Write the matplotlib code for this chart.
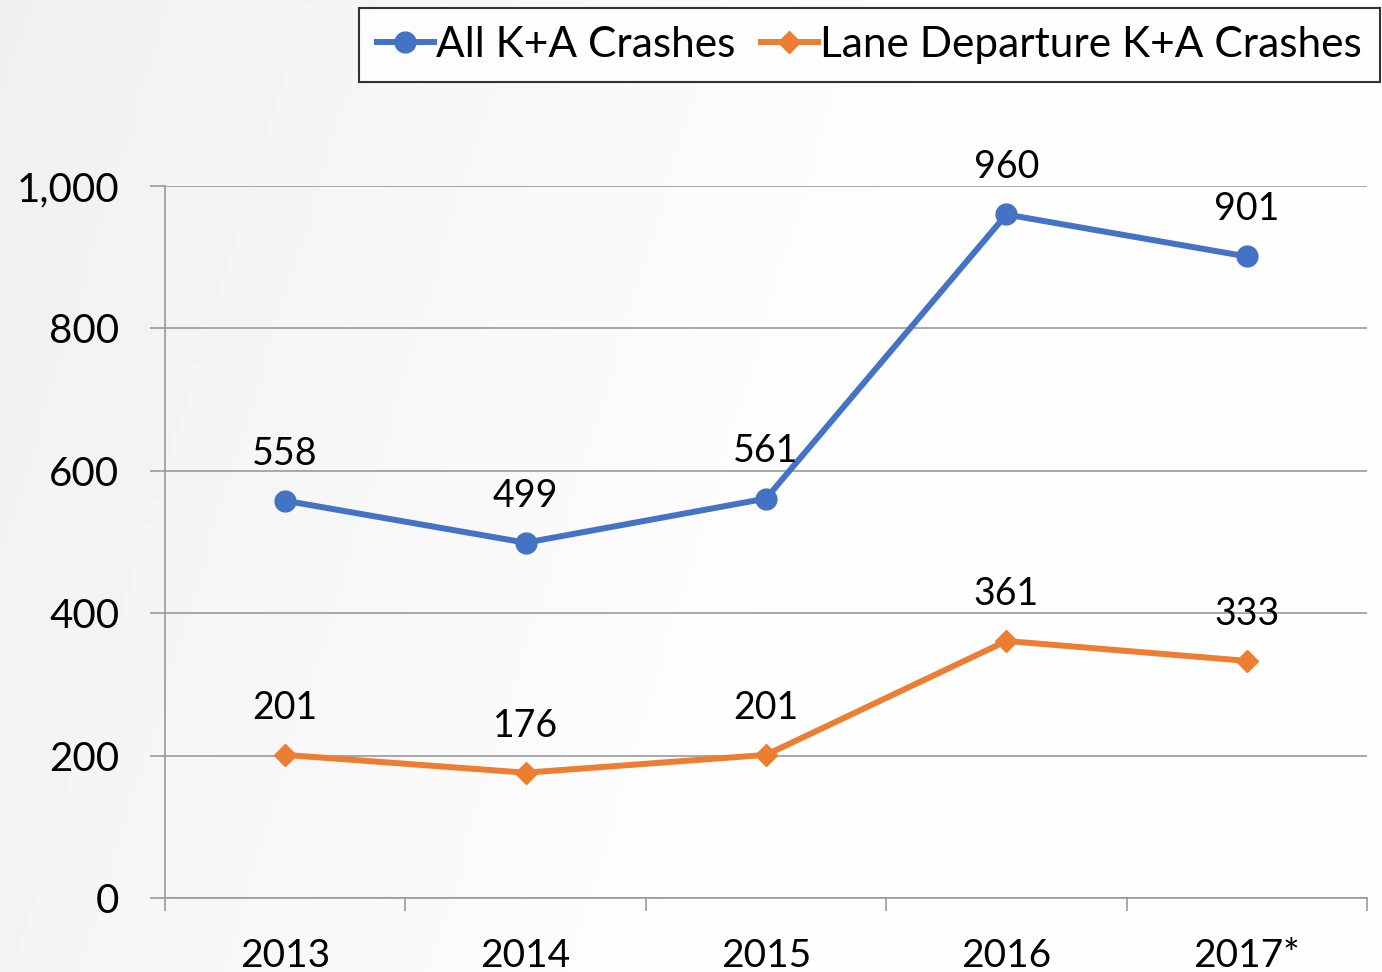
import matplotlib
matplotlib.use('Agg')
import matplotlib.pyplot as plt
import numpy as np

years = ['2013', '2014', '2015', '2016', '2017*']
all_ka = [558, 499, 561, 960, 901]
lane_ka = [201, 176, 201, 361, 333]

plt.rcParams['font.family'] = ['Lato', 'DejaVu Sans']

fig = plt.figure(figsize=(13.82, 9.72), dpi=100)
fig.patch.set_facecolor('white')

# faint grey backdrop like the slide
bg = fig.add_axes([0, 0, 1, 1], zorder=-10)
gx, gy = np.meshgrid(np.linspace(0, 1, 200), np.linspace(0, 1, 200))
shade = 0.94 + 0.055 * np.clip(gx * 1.4 + gy * 0.3, 0, 1)
bg.imshow(shade, cmap='gray', vmin=0, vmax=1, aspect='auto', extent=[0, 1, 0, 1])
bg.axis('off')

ax = fig.add_axes([165 / 1382, 1 - 898 / 972, (1367 - 165) / 1382, (898 - 186) / 972])
ax.set_facecolor('none')

x = np.arange(len(years))
blue = '#4472C4'
orange = '#ED7D31'
ax.plot(x, all_ka, color=blue, lw=4.3, marker='o', ms=15, label='All K+A Crashes', zorder=3)
ax.plot(x, lane_ka, color=orange, lw=4.3, marker='D', ms=11, label='Lane Departure K+A Crashes', zorder=3)

for xi, v in zip(x, all_ka):
    ax.annotate(str(v), (xi, v), xytext=(0, 26), textcoords='offset points',
                ha='center', va='baseline', fontsize=27, zorder=4)
for xi, v in zip(x, lane_ka):
    ax.annotate(str(v), (xi, v), xytext=(0, 26), textcoords='offset points',
                ha='center', va='baseline', fontsize=27, zorder=4)

ax.set_xlim(-0.5, 4.5)
ax.set_ylim(0, 1000)
ax.set_yticks([0, 200, 400, 600, 800, 1000])
ax.set_yticklabels(['0', '200', '400', '600', '800', '1,000'])
ax.set_xticks(x)
ax.set_xticklabels(years)
ax.set_xticks(np.arange(-0.5, 5, 1), minor=True)

grey = '#9a9a9a'
ax.grid(axis='y', color=grey, lw=1.2)
ax.set_axisbelow(True)
for s in ['top', 'right']:
    ax.spines[s].set_visible(False)
for s in ['left', 'bottom']:
    ax.spines[s].set_color(grey)
    ax.spines[s].set_linewidth(1.2)

ax.tick_params(axis='y', length=11, width=1.2, color=grey, labelsize=29, pad=22)
ax.tick_params(axis='x', which='major', length=0, labelsize=28, pad=29)
ax.tick_params(axis='x', which='minor', length=9, width=1.2, color=grey)

leg = fig.legend(loc='upper left', bbox_to_anchor=(359 / 1382, 1 - 8 / 972), ncol=2,
                 fontsize=30.5, frameon=True, fancybox=False, handlelength=1.35,
                 handletextpad=0.05, columnspacing=0.6, borderpad=0.42,
                 borderaxespad=0)
leg.get_frame().set_edgecolor('black')
leg.get_frame().set_linewidth(1.5)
leg.get_frame().set_facecolor('white')

fig.savefig('out.png', dpi=100)
